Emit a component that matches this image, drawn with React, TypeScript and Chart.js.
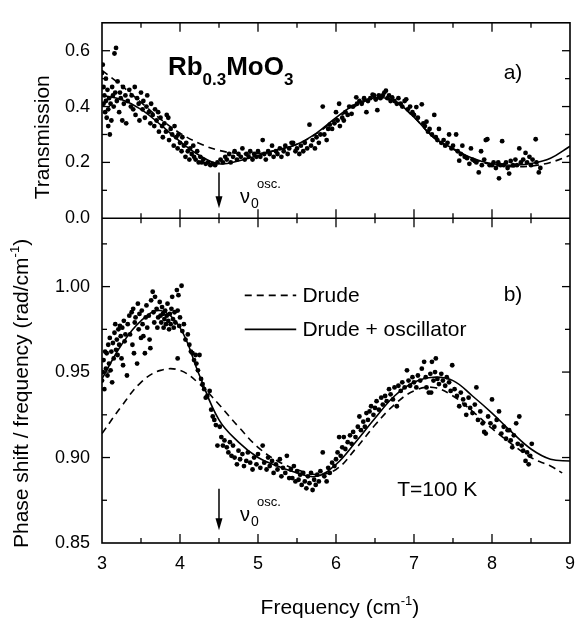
import React, { useEffect, useRef } from 'react';
import { Chart, registerables } from 'chart.js';
Chart.register(...registerables);

const FONT = '"Liberation Sans", Arial, Helvetica, sans-serif';

// axis ticks
const xTicks = [3, 4, 5, 6, 7, 8, 9];
const xMinor = [3.5, 4.5, 5.5, 6.5, 7.5, 8.5];
const topTicks = [0, 0.2, 0.4, 0.6];
const topMinor = [0.1, 0.3, 0.5];
const bottomTicks = [0.85, 0.9, 0.95, 1.0];
const bottomMinor = [0.875, 0.925, 0.975, 1.025];

// model curves
const curveX = [3, 3.25, 3.5, 3.75, 4, 4.25, 4.5, 4.75, 5, 5.25, 5.5, 5.75, 6, 6.25, 6.5, 6.75, 7, 7.25, 7.5, 7.75, 8, 8.25, 8.5, 8.75, 9];
const transOsc = [0.44, 0.425, 0.39, 0.335, 0.275, 0.225, 0.195, 0.205, 0.225, 0.245, 0.265, 0.305, 0.36, 0.408, 0.432, 0.42, 0.362, 0.29, 0.25, 0.215, 0.195, 0.19, 0.196, 0.215, 0.258];
const transDrude = [0.53, 0.475, 0.415, 0.355, 0.305, 0.268, 0.243, 0.232, 0.232, 0.245, 0.265, 0.303, 0.355, 0.402, 0.428, 0.418, 0.362, 0.29, 0.248, 0.213, 0.192, 0.185, 0.187, 0.2, 0.225];
const phaseOsc = [0.946, 0.966, 0.98, 0.986, 0.976, 0.948, 0.922, 0.909, 0.9, 0.895, 0.891, 0.889, 0.896, 0.909, 0.923, 0.936, 0.944, 0.947, 0.945, 0.936, 0.926, 0.915, 0.905, 0.899, 0.898];
const phaseDrudeX = [3, 3.25, 3.5, 3.75, 4, 4.25, 4.5, 4.75, 5, 5.25, 5.5, 5.75, 6, 6.25, 6.5, 6.75, 7, 7.25, 7.5, 7.75, 8, 8.25, 8.5, 8.75, 8.9];
const phaseDrude = [0.914, 0.93, 0.944, 0.951, 0.951, 0.943, 0.931, 0.918, 0.906, 0.898, 0.893, 0.89, 0.893, 0.905, 0.919, 0.931, 0.939, 0.941, 0.936, 0.927, 0.917, 0.908, 0.9, 0.895, 0.891];

// measured points: transmission (panel a)
const transPoints: [number, number][] = [
  [3.00,0.52],[3.01,0.55],[3.02,0.47],[3.02,0.41],[3.03,0.44],[3.04,0.38],[3.05,0.50],[3.05,0.42],[3.06,0.36],[3.07,0.46],[3.08,0.39],[3.08,0.33],[3.09,0.43],[3.10,0.30],[3.11,0.41],[3.12,0.35],[3.13,0.47],[3.14,0.44],[3.15,0.40],[3.16,0.59],[3.17,0.45],[3.18,0.61],[3.19,0.42],[3.20,0.49],[3.22,0.38],[3.23,0.45],[3.24,0.43],[3.26,0.35],[3.27,0.47],[3.28,0.41],[3.30,0.44],[3.31,0.34],
  [3.33,0.42],[3.35,0.46],[3.37,0.40],[3.38,0.44],[3.40,0.39],[3.42,0.47],[3.43,0.37],[3.45,0.43],[3.47,0.41],[3.48,0.35],[3.50,0.45],[3.52,0.39],[3.53,0.42],[3.55,0.36],[3.57,0.40],[3.58,0.44],[3.60,0.38],[3.62,0.34],[3.63,0.41],[3.65,0.37],[3.67,0.33],[3.68,0.39],[3.70,0.35],[3.72,0.38],[3.73,0.31],[3.75,0.36],[3.77,0.33],[3.78,0.29],[3.80,0.34],[3.82,0.31],[3.83,0.37],[3.85,0.36],[3.86,0.28],[3.88,0.32],[3.90,0.30],[3.92,0.26],[3.93,0.33],[3.95,0.29],[3.97,0.25],[3.98,0.30],
  [4.00,0.27],[4.02,0.24],[4.03,0.29],[4.05,0.26],[4.07,0.22],[4.08,0.27],[4.10,0.24],[4.12,0.21],[4.13,0.25],[4.15,0.23],[4.17,0.26],[4.18,0.22],[4.20,0.21],[4.22,0.24],[4.24,0.20],[4.26,0.22],[4.28,0.20],[4.30,0.21],[4.33,0.195],[4.36,0.20],[4.39,0.19],[4.42,0.195],[4.45,0.19],[4.48,0.20],
  [4.52,0.21],[4.55,0.20],[4.58,0.22],[4.60,0.21],[4.63,0.23],[4.65,0.20],[4.68,0.22],[4.70,0.24],[4.73,0.21],[4.75,0.23],[4.78,0.22],[4.80,0.25],[4.83,0.21],[4.85,0.23],[4.88,0.22],[4.90,0.24],[4.93,0.21],[4.95,0.23],[4.98,0.22],[5.00,0.24],[5.03,0.22],[5.06,0.28],[5.08,0.23],[5.10,0.21],[5.13,0.24],[5.15,0.23],[5.18,0.26],[5.20,0.22],[5.23,0.24],[5.25,0.23],[5.28,0.25],[5.30,0.22],[5.33,0.24],[5.35,0.26],[5.38,0.23],[5.40,0.25],[5.43,0.27],[5.45,0.27],[5.48,0.24],
  [5.50,0.25],[5.53,0.23],[5.55,0.26],[5.58,0.24],[5.60,0.27],[5.63,0.25],[5.66,0.335],[5.68,0.26],[5.70,0.28],[5.73,0.25],[5.75,0.29],[5.78,0.27],[5.80,0.30],[5.83,0.40],[5.85,0.30],[5.88,0.28],[5.90,0.32],[5.92,0.335],[5.95,0.32],[5.98,0.34],
  [6.00,0.38],[6.02,0.35],[6.04,0.41],[6.05,0.33],[6.08,0.36],[6.10,0.35],[6.12,0.38],[6.15,0.37],[6.17,0.40],[6.20,0.374],[6.22,0.40],[6.26,0.433],[6.27,0.41],[6.30,0.42],[6.33,0.41],[6.36,0.43],[6.39,0.38],[6.41,0.42],[6.44,0.43],[6.47,0.443],[6.49,0.44],[6.51,0.425],[6.53,0.387],[6.55,0.44],[6.57,0.43],[6.60,0.44],[6.62,0.45],[6.64,0.457],
  [6.66,0.43],[6.68,0.44],[6.70,0.42],[6.72,0.433],[6.75,0.42],[6.78,0.41],[6.80,0.43],[6.83,0.41],[6.85,0.40],[6.88,0.42],[6.90,0.426],[6.92,0.39],[6.95,0.40],[6.98,0.38],[7.00,0.37],[7.03,0.398],[7.05,0.36],[7.10,0.408],[7.12,0.34],[7.14,0.33],[7.16,0.346],[7.18,0.31],
  [7.20,0.32],[7.23,0.30],[7.26,0.37],[7.28,0.29],[7.30,0.28],[7.32,0.32],[7.35,0.27],[7.38,0.28],[7.40,0.26],[7.43,0.27],[7.45,0.30],[7.48,0.25],[7.50,0.26],[7.54,0.30],[7.56,0.24],[7.58,0.206],[7.60,0.23],[7.62,0.26],[7.65,0.22],[7.68,0.215],[7.71,0.195],[7.73,0.25],[7.75,0.21],[7.78,0.205],[7.80,0.20],[7.83,0.164],[7.86,0.24],[7.87,0.19],[7.90,0.21],[7.92,0.28],[7.94,0.283],[7.97,0.19],
  [8.00,0.19],[8.02,0.20],[8.05,0.18],[8.08,0.20],[8.09,0.143],[8.11,0.19],[8.13,0.276],[8.15,0.19],[8.18,0.20],[8.20,0.18],[8.22,0.16],[8.24,0.205],[8.27,0.19],[8.30,0.21],[8.32,0.19],[8.35,0.25],[8.37,0.20],[8.40,0.21],[8.43,0.234],[8.45,0.20],[8.48,0.22],[8.50,0.19],[8.52,0.21],[8.56,0.283],[8.57,0.20],[8.60,0.164],[8.62,0.18]
];

// measured points: phase shift / frequency (panel b)
const phasePoints: [number, number][] = [
  [3.00,0.945],[3.01,0.95],[3.02,0.957],[3.03,0.94],[3.04,0.962],[3.05,0.952],[3.06,0.961],[3.07,0.948],[3.08,0.966],[3.09,0.955],[3.10,0.97],[3.11,0.951],[3.12,0.962],[3.13,0.944],[3.14,0.967],[3.15,0.958],[3.16,0.973],[3.17,0.978],[3.18,0.963],[3.19,0.969],[3.20,0.96],[3.21,0.975],[3.22,0.966],[3.23,0.977],[3.24,0.971],[3.25,0.958],[3.26,0.976],[3.27,0.954],[3.28,0.98],[3.29,0.968],[3.30,0.972],
  [3.32,0.948],[3.33,0.978],[3.35,0.983],[3.36,0.972],[3.38,0.985],[3.39,0.966],[3.40,0.987],[3.41,0.961],[3.42,0.979],[3.43,0.982],[3.45,0.955],[3.46,0.99],[3.47,0.975],[3.48,0.984],[3.50,0.97],[3.51,0.986],[3.52,0.978],[3.53,0.971],[3.55,0.961],[3.56,0.982],[3.57,0.989],[3.58,0.976],[3.60,0.983],[3.61,0.969],[3.62,0.964],
  [3.63,0.992],[3.65,0.997],[3.66,0.985],[3.67,0.979],[3.68,0.994],[3.70,0.987],[3.71,0.976],[3.72,0.982],[3.74,0.991],[3.75,0.983],[3.76,0.979],[3.77,0.988],[3.78,0.984],[3.79,0.976],[3.80,0.981],[3.81,0.986],[3.82,0.978],[3.83,0.983],[3.84,0.99],[3.85,0.98],[3.86,0.975],[3.87,0.984],[3.88,0.978],[3.89,0.987],[3.90,0.994],[3.91,0.981],[3.92,0.976],[3.93,0.985],[3.94,0.979],[3.96,0.998],[3.97,0.986],[3.97,0.958],[3.98,0.995],[3.99,0.977],[4.00,0.982],[4.02,1.0005],[4.03,0.974],[4.05,0.978],[4.07,0.969],[4.10,0.972],
  [4.12,0.966],[4.14,0.962],[4.16,0.961],[4.18,0.957],[4.20,0.96],[4.21,0.955],[4.23,0.951],[4.25,0.96],[4.27,0.946],[4.29,0.943],[4.31,0.94],[4.33,0.935],[4.35,0.936],[4.38,0.939],[4.40,0.928],[4.42,0.924],[4.44,0.922],[4.46,0.919],[4.48,0.907],[4.51,0.918],[4.53,0.912],[4.55,0.907],[4.57,0.91],
  [4.60,0.906],[4.62,0.903],[4.64,0.909],[4.66,0.901],[4.68,0.907],[4.70,0.9],[4.73,0.896],[4.75,0.904],[4.77,0.899],[4.80,0.902],[4.82,0.895],[4.85,0.898],[4.87,0.903],[4.90,0.897],[4.93,0.893],[4.95,0.9],[4.98,0.896],[5.00,0.902],[5.03,0.894],[5.06,0.907],[5.08,0.897],[5.11,0.893],[5.13,0.9],[5.15,0.895],[5.18,0.898],[5.20,0.891],[5.23,0.896],[5.25,0.893],[5.28,0.899],[5.30,0.889],[5.32,0.894],[5.35,0.891],[5.37,0.901],[5.40,0.888],[5.42,0.893],[5.44,0.888],[5.46,0.895],[5.48,0.886],
  [5.50,0.892],[5.52,0.887],[5.54,0.89],[5.56,0.884],[5.58,0.891],[5.60,0.886],[5.62,0.882],[5.64,0.889],[5.66,0.885],[5.68,0.891],[5.70,0.881],[5.72,0.887],[5.74,0.884],[5.76,0.89],[5.78,0.886],[5.80,0.892],[5.83,0.903],[5.85,0.889],[5.88,0.886],[5.90,0.894],[5.92,0.891],[5.95,0.897],[5.98,0.895],
  [6.00,0.899],[6.02,0.903],[6.04,0.912],[6.06,0.901],[6.08,0.906],[6.10,0.912],[6.12,0.905],[6.15,0.909],[6.18,0.913],[6.20,0.908],[6.22,0.915],[6.25,0.912],[6.28,0.918],[6.30,0.924],[6.32,0.916],[6.35,0.921],[6.37,0.918],[6.39,0.926],[6.41,0.922],[6.43,0.927],[6.45,0.93],[6.48,0.925],[6.50,0.929],[6.52,0.933],[6.55,0.928],[6.58,0.935],
  [6.60,0.931],[6.63,0.936],[6.65,0.933],[6.68,0.94],[6.70,0.937],[6.73,0.934],[6.75,0.941],[6.78,0.93],[6.80,0.942],[6.83,0.939],[6.85,0.944],[6.88,0.941],[6.91,0.951],[6.93,0.945],[6.95,0.942],[6.98,0.947],[7.00,0.944],[7.03,0.941],[7.05,0.948],[7.08,0.945],[7.10,0.952],[7.13,0.956],[7.15,0.947],[7.16,0.941],[7.19,0.938],
  [7.21,0.949],[7.22,0.938],[7.23,0.956],[7.25,0.945],[7.27,0.95],[7.28,0.958],[7.30,0.946],[7.32,0.943],[7.35,0.949],[7.37,0.945],[7.40,0.942],[7.42,0.947],[7.45,0.944],[7.47,0.939],[7.49,0.954],[7.52,0.94],[7.55,0.936],[7.58,0.93],[7.60,0.938],
  [7.63,0.934],[7.65,0.931],[7.67,0.925],[7.70,0.935],[7.72,0.929],[7.75,0.926],[7.78,0.931],[7.80,0.941],[7.82,0.922],[7.85,0.927],[7.88,0.92],[7.90,0.915],[7.92,0.914],[7.95,0.924],[7.98,0.92],[8.00,0.934],[8.03,0.918],[8.06,0.922],[8.09,0.927],[8.12,0.914],[8.15,0.918],[8.18,0.911],[8.20,0.916],[8.22,0.916],[8.24,0.91],[8.26,0.906],[8.28,0.913],[8.31,0.92],[8.33,0.908],[8.35,0.924],[8.38,0.907],[8.40,0.904],[8.43,0.898],[8.45,0.903],[8.47,0.896],[8.49,0.901],[8.51,0.908]
];

const near = (a: number, list: number[]) => list.some((b) => Math.abs(a - b) < 1e-6);

function line(ctx: CanvasRenderingContext2D, x1: number, y1: number, x2: number, y2: number) {
  ctx.beginPath();
  ctx.moveTo(x1, y1);
  ctx.lineTo(x2, y2);
  ctx.stroke();
}

function drawRich(ctx: CanvasRenderingContext2D, parts: { t: string; size: number; dy: number; bold?: boolean }[], x: number, y: number, align: 'left' | 'center') {
  const widths = parts.map((p) => {
    ctx.font = `${p.bold ? 'bold ' : ''}${p.size}px ${FONT}`;
    return ctx.measureText(p.t).width;
  });
  const total = widths.reduce((s, w) => s + w, 0);
  let cx = align === 'center' ? x - total / 2 : x;
  parts.forEach((p, i) => {
    ctx.font = `${p.bold ? 'bold ' : ''}${p.size}px ${FONT}`;
    ctx.fillText(p.t, cx, y + p.dy);
    cx += widths[i];
  });
}

const decor = {
  id: 'decor',
  afterDatasetsDraw(chart: any) {
    const { ctx, chartArea: a, scales } = chart;
    const sx = scales.x, yT = scales.yT, yB = scales.yB;
    const mid = yT.getPixelForValue(0);
    ctx.save();
    ctx.strokeStyle = '#000';
    ctx.fillStyle = '#000';
    ctx.lineWidth = 1.6;
    ctx.strokeRect(a.left, a.top, a.right - a.left, a.bottom - a.top);
    line(ctx, a.left, mid, a.right, mid);
    ctx.lineWidth = 1.3;
    // x ticks
    const xt = (list: number[], len: number) => {
      list.forEach((v) => {
        const p = sx.getPixelForValue(v);
        line(ctx, p, a.top, p, a.top + len);
        line(ctx, p, mid - len, p, mid + len);
        line(ctx, p, a.bottom, p, a.bottom - len);
      });
    };
    xt(xTicks.slice(1, -1), 9);
    xt(xMinor, 5);
    const yt = (sc: any, list: number[], len: number) => {
      list.forEach((v) => {
        const p = sc.getPixelForValue(v);
        line(ctx, a.left, p, a.left + len, p);
        line(ctx, a.right, p, a.right - len, p);
      });
    };
    yt(yT, topTicks.slice(1), 8);
    yt(yT, topMinor, 5);
    yt(yB, bottomTicks.slice(1), 8);
    yt(yB, bottomMinor, 5);

    // arrows at nu0
    const arrow = (sc: any, v1: number, v2: number) => {
      const px = sx.getPixelForValue(4.5);
      const p1 = sc.getPixelForValue(v1);
      const p2 = sc.getPixelForValue(v2);
      ctx.lineWidth = 1.5;
      line(ctx, px, p1, px, p2 - 4);
      ctx.beginPath();
      ctx.moveTo(px, p2);
      ctx.lineTo(px - 3.5, p2 - 12);
      ctx.lineTo(px + 3.5, p2 - 12);
      ctx.closePath();
      ctx.fill();
    };
    arrow(yT, 0.164, 0.036);
    arrow(yB, 0.8818, 0.8574);

    ctx.textAlign = 'left';
    ctx.textBaseline = 'alphabetic';
    const nu = (sc: any, v: number) => {
      const x0 = sx.getPixelForValue(4.5) + 21;
      const b = sc.getPixelForValue(v);
      ctx.font = `20px ${FONT}`;
      ctx.fillText('\u03BD', x0, b);
      ctx.font = `14px ${FONT}`;
      ctx.fillText('0', x0 + 11, b + 5);
      ctx.font = `13px ${FONT}`;
      ctx.fillText('osc.', x0 + 17, b - 15);
    };
    nu(yT, 0.056);
    nu(yB, 0.863);

    // compound name
    drawRich(ctx, [
      { t: 'Rb', size: 26, dy: 0, bold: true },
      { t: '0.3', size: 17, dy: 10, bold: true },
      { t: 'MoO', size: 26, dy: 0, bold: true },
      { t: '3', size: 17, dy: 10, bold: true },
    ], sx.getPixelForValue(3.845), yT.getPixelForValue(0.513), 'left');

    ctx.font = `21px ${FONT}`;
    ctx.fillText('a)', sx.getPixelForValue(8.15), yT.getPixelForValue(0.499));
    ctx.fillText('b)', sx.getPixelForValue(8.15), yB.getPixelForValue(0.9914));
    ctx.fillText('T=100 K', sx.getPixelForValue(6.785), yB.getPixelForValue(0.8773));

    // legend
    const lx1 = sx.getPixelForValue(4.83), lx2 = sx.getPixelForValue(5.49);
    ctx.lineWidth = 1.6;
    ctx.setLineDash([7, 5]);
    const ld = yB.getPixelForValue(0.9949);
    line(ctx, lx1, ld, lx2, ld);
    ctx.setLineDash([]);
    const ls = yB.getPixelForValue(0.975);
    line(ctx, lx1, ls, lx2, ls);
    ctx.font = `21px ${FONT}`;
    ctx.fillText('Drude', sx.getPixelForValue(5.57), ld + 7);
    ctx.fillText('Drude + oscillator', sx.getPixelForValue(5.57), ls + 7);

    // axis titles
    drawRich(ctx, [
      { t: 'Frequency (cm', size: 21, dy: 0 },
      { t: '-1', size: 13, dy: -9 },
      { t: ')', size: 21, dy: 0 },
    ], sx.getPixelForValue(6.05), 614, 'center');

    ctx.save();
    ctx.translate(49, yT.getPixelForValue(0.29));
    ctx.rotate(-Math.PI / 2);
    ctx.font = `21px ${FONT}`;
    ctx.textAlign = 'center';
    ctx.fillText('Transmission', 0, 0);
    ctx.restore();

    ctx.save();
    ctx.translate(28, yB.getPixelForValue(0.9375));
    ctx.rotate(-Math.PI / 2);
    ctx.textAlign = 'left';
    drawRich(ctx, [
      { t: 'Phase shift / frequency (rad/cm', size: 21, dy: 0 },
      { t: '-1', size: 13, dy: -9 },
      { t: ')', size: 21, dy: 0 },
    ], 0, 0, 'center');
    ctx.restore();

    ctx.restore();
  },
};

export default function App() {
  const ref = useRef<HTMLCanvasElement | null>(null);
  useEffect(() => {
    if (!ref.current) return;
    const tickFont = { family: FONT, size: 18 };
    const curve = (xs: number[], ys: number[], axis: string, dash: number[]) => ({
      type: 'scatter' as const,
      data: xs.map((x, i) => ({ x, y: ys[i] })),
      yAxisID: axis,
      showLine: true,
      borderColor: '#000',
      borderWidth: 1.6,
      borderDash: dash,
      pointRadius: 0,
      tension: 0.4,
      fill: false,
    });
    const dots = (pts: [number, number][], axis: string) => ({
      type: 'scatter' as const,
      data: pts.map(([x, y]) => ({ x, y })),
      yAxisID: axis,
      showLine: false,
      pointRadius: 2.4,
      pointBackgroundColor: '#000',
      pointBorderWidth: 0,
      borderColor: '#000',
    });
    const chart = new Chart(ref.current, {
      type: 'scatter',
      data: {
        datasets: [
          curve(curveX, transOsc, 'yT', []),
          curve(curveX, transDrude, 'yT', [7, 5]),
          curve(curveX, phaseOsc, 'yB', []),
          curve(phaseDrudeX, phaseDrude, 'yB', [7, 5]),
          dots(transPoints, 'yT'),
          dots(phasePoints, 'yB'),
        ] as any,
      },
      options: {
        animation: false,
        responsive: true,
        maintainAspectRatio: false,
        layout: { padding: { top: 8, right: 14, left: 0, bottom: 0 } },
        plugins: { legend: { display: false }, tooltip: { enabled: false } },
        scales: {
          x: {
            type: 'linear',
            position: 'bottom',
            min: 3,
            max: 9,
            ticks: {
              stepSize: 1,
              font: tickFont,
              color: '#000',
              padding: 10,
              autoSkip: false,
              maxRotation: 0,
              callback: (v: any) => (near(Number(v), xTicks) ? String(v) : ''),
            },
            grid: { display: false, drawTicks: false },
            border: { display: false },
            afterFit: (s: any) => { s.height = 80; },
          },
          yB: {
            type: 'linear',
            position: 'left',
            stack: 'panels',
            stackWeight: 334,
            min: 0.85,
            max: 1.04,
            ticks: {
              stepSize: 0.05,
              includeBounds: false,
              font: tickFont,
              color: '#000',
              padding: 12,
              autoSkip: false,
              callback: (v: any) => (near(Number(v), bottomTicks) ? Number(v).toFixed(2) : ''),
            },
            grid: { display: false, drawTicks: false },
            border: { display: false },
            afterFit: (s: any) => { s.width = 102; },
          },
          yT: {
            type: 'linear',
            position: 'left',
            stack: 'panels',
            stackWeight: 201,
            min: 0,
            max: 0.7,
            ticks: {
              stepSize: 0.2,
              includeBounds: false,
              font: tickFont,
              color: '#000',
              padding: 12,
              autoSkip: false,
              callback: (v: any) => (near(Number(v), topTicks) ? Number(v).toFixed(1) : ''),
            },
            grid: { display: false, drawTicks: false },
            border: { display: false },
            afterFit: (s: any) => { s.width = 102; },
          },
        } as any,
      },
      plugins: [decor],
    });
    return () => chart.destroy();
  }, []);
  return (
    <div style={{ position: 'fixed', left: 0, top: 0, width: 585, height: 623, background: '#fff' }}>
      <canvas ref={ref} />
    </div>
  );
}
